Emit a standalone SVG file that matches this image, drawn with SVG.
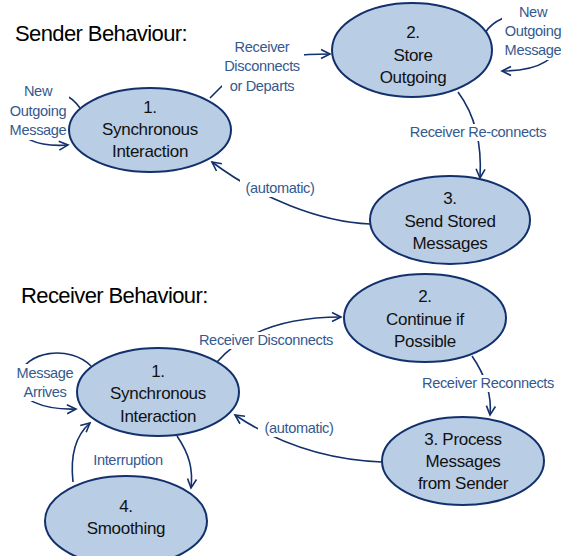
<svg xmlns="http://www.w3.org/2000/svg" width="561" height="556" viewBox="0 0 561 556">
<defs>
<marker id="arr" markerWidth="12" markerHeight="12" refX="10" refY="5" orient="auto" markerUnits="userSpaceOnUse" viewBox="0 0 12 10">
<path d="M1,0.5 L10,5 L1,9.5" fill="none" stroke="#12306c" stroke-width="1.6"/>
</marker>
<style>
.title{font-family:"Liberation Sans",Arial,sans-serif;font-size:22px;letter-spacing:-0.6px;fill:#000}
.node ellipse{fill:#b9cde5;stroke:#12306c;stroke-width:2}
.node text{font-family:"Liberation Sans",Arial,sans-serif;font-size:17px;letter-spacing:-0.3px;fill:#111;text-anchor:middle}
.edge{fill:none;stroke:#12306c;stroke-width:1.6}
.lbl{font-family:"Liberation Sans",Arial,sans-serif;font-size:14.6px;letter-spacing:-0.35px;fill:#34598f;text-anchor:middle}
.bg{fill:#fff}
</style>
</defs>
<rect width="561" height="556" fill="#fff"/>
<text class="title" x="15" y="41">Sender Behaviour:</text>
<text class="title" x="21" y="303">Receiver Behaviour:</text>

<g id="connectors">
<path class="edge" d="M80,108 C60,80 15,85 14,115 C14,140 40,147 68,145" marker-end="url(#arr)"/>
<path class="edge" d="M210,98 C240,65 270,54 330,54" marker-end="url(#arr)"/>
<path class="edge" d="M485,33 C500,8 555,5 559,35 C561,58 540,71 502,71" marker-end="url(#arr)"/>
<path class="edge" d="M458,92 C475,115 482,145 480,178" marker-end="url(#arr)"/>
<path class="edge" d="M370,224 C320,222 260,198 212,162" marker-end="url(#arr)"/>

<path class="edge" d="M91,366 C70,345 25,350 18,378 C14,400 45,410 76,409" marker-end="url(#arr)"/>
<path class="edge" d="M217,362 C245,330 290,317 341,317" marker-end="url(#arr)"/>
<path class="edge" d="M472,356 C485,375 492,395 490,415" marker-end="url(#arr)"/>
<path class="edge" d="M382,462 C330,460 280,445 235,415" marker-end="url(#arr)"/>
<path class="edge" d="M177,436 C190,455 193,470 191,488" marker-end="url(#arr)"/>
<path class="edge" d="M73,482 C70,455 75,436 90,423" marker-end="url(#arr)"/>

<rect class="bg" x="7" y="83" width="62" height="57"/>
<text class="lbl" x="38" y="96">New</text>
<text class="lbl" x="38" y="116">Outgoing</text>
<text class="lbl" x="38" y="135">Message</text>

<rect class="bg" x="222" y="39" width="82" height="56"/>
<text class="lbl" x="262" y="52">Receiver</text>
<text class="lbl" x="262" y="71">Disconnects</text>
<text class="lbl" x="262" y="91">or Departs</text>

<rect class="bg" x="502" y="5" width="59" height="55"/>
<text class="lbl" x="533" y="17">New</text>
<text class="lbl" x="533" y="36">Outgoing</text>
<text class="lbl" x="533" y="55">Message</text>

<rect class="bg" x="406" y="124" width="144" height="17"/>
<text class="lbl" x="478" y="137">Receiver Re-connects</text>

<rect class="bg" x="240" y="179" width="80" height="18"/>
<text class="lbl" x="280" y="193">(automatic)</text>

<rect class="bg" x="13" y="364" width="64" height="37"/>
<text class="lbl" x="45" y="378">Message</text>
<text class="lbl" x="45" y="397">Arrives</text>

<rect class="bg" x="228" y="332" width="80" height="17"/>
<text class="lbl" x="266" y="345">Receiver Disconnects</text>

<rect class="bg" x="418" y="375" width="141" height="17"/>
<text class="lbl" x="488" y="388">Receiver Reconnects</text>

<rect class="bg" x="258" y="419" width="82" height="18"/>
<text class="lbl" x="299" y="433">(automatic)</text>

<text class="lbl" x="128" y="465">Interruption</text>
</g>

<g id="s1" class="node">
<ellipse cx="150" cy="130" rx="81" ry="42"/>
<text x="150" y="113">1.</text>
<text x="150" y="135">Synchronous</text>
<text x="150" y="157">Interaction</text>
</g>
<g id="s2" class="node">
<ellipse cx="412" cy="50" rx="80" ry="47"/>
<text x="413" y="38">2.</text>
<text x="413" y="61">Store</text>
<text x="413" y="83">Outgoing</text>
</g>
<g id="s3" class="node">
<ellipse cx="450" cy="220" rx="80" ry="44"/>
<text x="450" y="204">3.</text>
<text x="450" y="227">Send Stored</text>
<text x="450" y="249">Messages</text>
</g>

<g id="r1" class="node">
<ellipse cx="158" cy="392" rx="81" ry="44"/>
<text x="158" y="377">1.</text>
<text x="158" y="399">Synchronous</text>
<text x="158" y="422">Interaction</text>
</g>
<g id="r2" class="node">
<ellipse cx="425" cy="318" rx="81" ry="44"/>
<text x="425" y="302">2.</text>
<text x="425" y="325">Continue if</text>
<text x="425" y="347">Possible</text>
</g>
<g id="r3" class="node">
<ellipse cx="463" cy="461" rx="81" ry="44"/>
<text x="463" y="445">3. Process</text>
<text x="463" y="467">Messages</text>
<text x="463" y="489">from Sender</text>
</g>
<g id="r4" class="node">
<ellipse cx="126" cy="521" rx="81" ry="45"/>
<text x="126" y="512">4.</text>
<text x="126" y="534">Smoothing</text>
</g>
</svg>
